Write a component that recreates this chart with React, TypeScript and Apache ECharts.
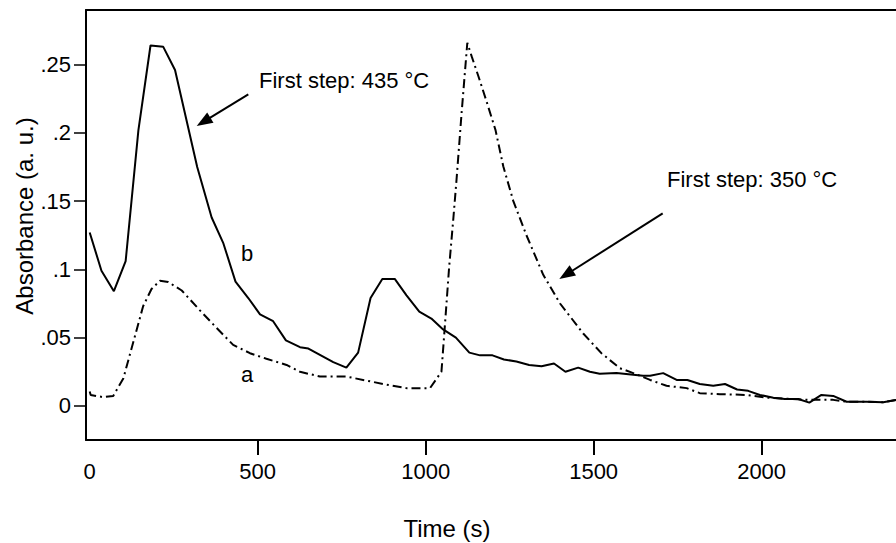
import React, { useEffect, useRef } from "react";
import * as echarts from "echarts";

// Curve b (solid line, first step 435 °C)
const timeB = [0, 35, 72, 107, 145, 181, 219, 254, 320, 363, 398, 434, 472, 507, 546, 584, 626, 651, 725, 764, 799, 836, 871, 908, 943, 981, 1017, 1052, 1090, 1130, 1162, 1199, 1233, 1270, 1308, 1345, 1382, 1416, 1454, 1489, 1518, 1568, 1647, 1668, 1707, 1747, 1779, 1816, 1856, 1891, 1927, 1960, 1995, 2035, 2069, 2109, 2142, 2178, 2213, 2253, 2312, 2362, 2400];
const absB = [0.127, 0.099, 0.084, 0.106, 0.202, 0.264, 0.263, 0.246, 0.175, 0.138, 0.119, 0.091, 0.079, 0.067, 0.062, 0.048, 0.043, 0.042, 0.032, 0.028, 0.039, 0.079, 0.093, 0.093, 0.081, 0.069, 0.064, 0.056, 0.05, 0.039, 0.037, 0.037, 0.034, 0.0325, 0.03, 0.029, 0.031, 0.025, 0.028, 0.025, 0.0235, 0.024, 0.022, 0.022, 0.024, 0.019, 0.019, 0.016, 0.0147, 0.016, 0.012, 0.011, 0.008, 0.006, 0.005, 0.005, 0.0024, 0.008, 0.0073, 0.003, 0.003, 0.0027, 0.0044];

// Curve a (dash-dot line, first step 350 °C)
const timeA = [0, 3, 40, 70, 100, 129, 159, 184, 209, 234, 274, 328, 378, 427, 477, 526, 586, 626, 685, 764, 874, 943, 1013, 1047, 1057, 1070, 1082, 1092, 1107, 1124, 1137, 1157, 1180, 1208, 1231, 1261, 1300, 1350, 1400, 1469, 1523, 1578, 1618, 1668, 1717, 1777, 1816, 1876, 1955, 2014, 2073, 2133, 2213, 2253, 2312, 2362, 2400];
const absA = [0.0105, 0.008, 0.0064, 0.0073, 0.02, 0.046, 0.073, 0.0856, 0.0917, 0.0907, 0.0845, 0.07, 0.057, 0.0447, 0.0386, 0.0345, 0.03, 0.025, 0.0215, 0.0215, 0.016, 0.013, 0.013, 0.025, 0.058, 0.102, 0.136, 0.166, 0.2146, 0.266, 0.256, 0.2415, 0.224, 0.202, 0.1755, 0.15, 0.125, 0.096, 0.075, 0.053, 0.0386, 0.0276, 0.024, 0.019, 0.0147, 0.013, 0.0093, 0.0086, 0.008, 0.006, 0.0053, 0.0044, 0.0044, 0.003, 0.003, 0.0027, 0.0044];

const xLabelValues = [0, 500, 1000, 1500, 2000];
const xTickValues = [500, 1000, 1500, 2000];
const yTickValues = [0, 0.05, 0.1, 0.15, 0.2, 0.25];

const FONT = "'Liberation Sans', Arial, sans-serif";

function arrow(sx: number, sy: number, tx: number, ty: number) {
  const dx = tx - sx;
  const dy = ty - sy;
  const len = Math.sqrt(dx * dx + dy * dy);
  const ux = dx / len;
  const uy = dy / len;
  const L = 16;
  const w = 6;
  const bx = tx - ux * L;
  const by = ty - uy * L;
  const nx = -uy;
  const ny = ux;
  return [
    {
      type: "line",
      shape: { x1: sx, y1: sy, x2: bx + ux * 2, y2: by + uy * 2 },
      style: { stroke: "#000", lineWidth: 2 },
    },
    {
      type: "polygon",
      shape: {
        points: [
          [tx, ty],
          [bx + nx * w, by + ny * w],
          [bx - nx * w, by - ny * w],
        ],
      },
      style: { fill: "#000" },
    },
  ];
}

function txt(x: number, y: number, text: string, size = 22, extra: any = {}) {
  return {
    type: "text",
    x,
    y,
    ...extra,
    style: {
      text,
      fill: "#000",
      font: `${size}px ${FONT}`,
      align: extra.align || "left",
      verticalAlign: "middle",
    },
  };
}

export default function App() {
  const ref = useRef<HTMLDivElement>(null);
  useEffect(() => {
    if (!ref.current) return;
    const chart = echarts.init(ref.current, null, { renderer: "svg" });
    chart.setOption({
      animation: false,
      backgroundColor: "#fff",
      grid: { left: 86, right: 0, top: 10, bottom: 103 },
      xAxis: [
        {
          type: "value",
          min: -11,
          max: 2400,
          axisLine: { show: true, onZero: false, lineStyle: { color: "#000", width: 2 } },
          axisTick: {
            show: true,
            customValues: xTickValues,
            length: 15,
            lineStyle: { color: "#000", width: 2 },
          },
          axisLabel: {
            customValues: xLabelValues,
            margin: 20,
            color: "#000",
            fontFamily: FONT,
            fontSize: 22,
            formatter: (v: number) => String(v),
          },
          splitLine: { show: false },
        },
        {
          type: "value",
          position: "top",
          min: -11,
          max: 2400,
          axisLine: { show: true, onZero: false, lineStyle: { color: "#000", width: 2 } },
          axisTick: { show: false },
          axisLabel: { show: false },
          splitLine: { show: false },
        },
      ],
      yAxis: {
        type: "value",
        min: -0.025,
        max: 0.29,
        axisLine: { show: true, onZero: false, lineStyle: { color: "#000", width: 2 } },
        axisTick: {
          show: true,
          customValues: yTickValues,
          length: 12,
          lineStyle: { color: "#000", width: 1.5 },
        },
        axisLabel: {
          customValues: yTickValues,
          margin: 15,
          color: "#000",
          fontFamily: FONT,
          fontSize: 22,
          formatter: (v: number) => (v === 0 ? "0" : String(v).replace(/^0/, "")),
        },
        splitLine: { show: false },
      },
      series: [
        {
          name: "b",
          type: "line",
          data: timeB.map((t, i) => [t, absB[i]]),
          showSymbol: false,
          symbol: "none",
          lineStyle: { color: "#000", width: 2 },
          z: 3,
        },
        {
          name: "a",
          type: "line",
          data: timeA.map((t, i) => [t, absA[i]]),
          showSymbol: false,
          symbol: "none",
          lineStyle: { color: "#000", width: 2, type: [9, 4, 2, 4] },
          z: 2,
        },
      ],
      graphic: [
        txt(259, 80, "First step: 435 °C"),
        txt(667, 179, "First step: 350 °C"),
        txt(241, 253, "b"),
        txt(241, 374, "a"),
        txt(447, 528, "Time (s)", 24, { align: "center" }),
        {
          type: "text",
          x: 24,
          y: 216,
          rotation: Math.PI / 2,
          style: {
            text: "Absorbance (a. u.)",
            fill: "#000",
            font: `24px ${FONT}`,
            align: "center",
            verticalAlign: "middle",
          },
        },
        ...arrow(248.3, 94.3, 196.7, 126),
        ...arrow(662.7, 213.3, 559.3, 279),
      ],
    });
    return () => chart.dispose();
  }, []);
  return (
    <div
      ref={ref}
      style={{ position: "fixed", left: 0, top: 0, width: 896, height: 543 }}
    />
  );
}
